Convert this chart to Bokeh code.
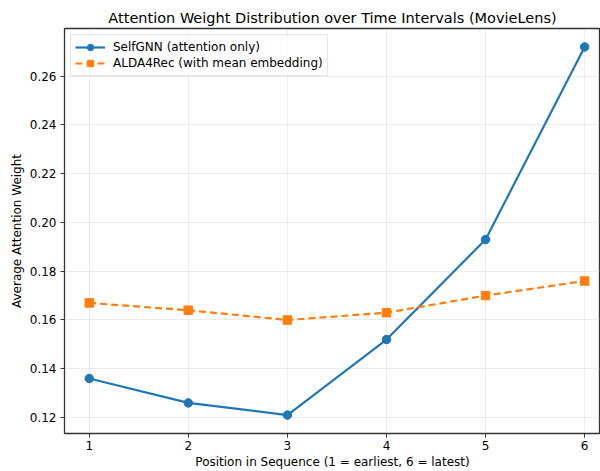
from bokeh.plotting import figure
from bokeh.embed import file_html
from bokeh.resources import INLINE
from bokeh.models import FixedTicker, Range1d, Legend, LegendItem, NumeralTickFormatter

positions = [1, 2, 3, 4, 5, 6]
selfgnn = [0.136, 0.126, 0.121, 0.152, 0.193, 0.272]
alda4rec = [0.167, 0.164, 0.160, 0.163, 0.170, 0.176]
x_ticks = [1, 2, 3, 4, 5, 6]
y_ticks = [0.12, 0.14, 0.16, 0.18, 0.20, 0.22, 0.24, 0.26]

FONT = "DejaVu Sans"
BLUE = "#1f77b4"
ORANGE = "#ff7f0e"

p = figure(width=600, height=471, output_backend="svg", toolbar_location=None,
           x_range=Range1d(0.75, 6.16), y_range=Range1d(0.11345, 0.27955),
           min_border_left=64, min_border_top=28, min_border_bottom=37, min_border_right=0)

p.title.text = "Attention Weight Distribution over Time Intervals (MovieLens)"
p.title.text_font = FONT
p.title.text_font_size = "14.5px"
p.title.text_font_style = "normal"
p.title.align = "center"
p.title.text_color = "#000000"
p.title.standoff = 5

p.outline_line_color = "#333333"
p.outline_line_width = 1.3
p.background_fill_color = "white"
p.border_fill_color = "white"

for ax in (p.xaxis[0], p.yaxis[0]):
    ax.axis_line_color = None
    ax.major_tick_line_color = "#333333"
    ax.major_tick_out = 4
    ax.major_tick_in = 0
    ax.minor_tick_line_color = None
    ax.major_label_text_font = FONT
    ax.major_label_text_font_size = "12px"
    ax.major_label_text_color = "#000000"
    ax.axis_label_text_font = FONT
    ax.axis_label_text_font_size = "12px"
    ax.axis_label_text_font_style = "normal"
    ax.axis_label_text_color = "#000000"
    ax.major_label_standoff = 4
    ax.axis_label_standoff = 3

p.xaxis[0].major_label_standoff = 3
p.xaxis[0].axis_label_standoff = 2

p.xaxis.ticker = FixedTicker(ticks=x_ticks)
p.yaxis.ticker = FixedTicker(ticks=y_ticks)
p.yaxis.formatter = NumeralTickFormatter(format="0.00")
p.xaxis.axis_label = "Position in Sequence (1 = earliest, 6 = latest)"
p.yaxis.axis_label = "Average Attention Weight"

p.xgrid.grid_line_color = "#b0b0b0"
p.ygrid.grid_line_color = "#b0b0b0"
p.xgrid.grid_line_alpha = 0.3
p.ygrid.grid_line_alpha = 0.3
p.xgrid.grid_line_width = 0.8
p.ygrid.grid_line_width = 0.8

l1 = p.line(positions, selfgnn, line_color=BLUE, line_width=2.2)
m1 = p.scatter(positions, selfgnn, marker="circle", size=8.5, fill_color=BLUE, line_color=BLUE)
l2 = p.line(positions, alda4rec, line_color=ORANGE, line_width=2.2, line_dash="7 4")
m2 = p.scatter(positions, alda4rec, marker="square", size=8.5, fill_color=ORANGE, line_color=ORANGE)

legend = Legend(items=[
    LegendItem(label="SelfGNN (attention only)", renderers=[l1, m1]),
    LegendItem(label="ALDA4Rec (with mean embedding)", renderers=[l2, m2]),
], location="top_left")
legend.label_text_font = FONT
legend.label_text_font_size = "12px"
legend.label_text_color = "#000000"
legend.border_line_color = "#cccccc"
legend.border_line_width = 1
legend.background_fill_alpha = 0.8
legend.margin = 6
legend.padding = 4
legend.spacing = 0
legend.glyph_width = 30
legend.glyph_height = 16
legend.label_height = 16
legend.label_standoff = 8
p.add_layout(legend)

open("out.html", "w").write(file_html(p, INLINE))
